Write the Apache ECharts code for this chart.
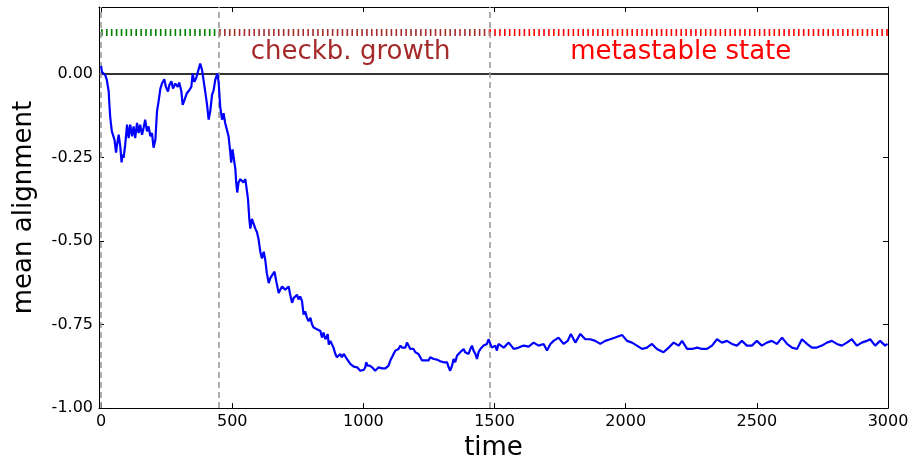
<!DOCTYPE html>
<html>
<head>
<meta charset="utf-8">
<script src="https://cdn.jsdelivr.net/npm/echarts@6/dist/echarts.min.js"></script>
<style>html,body{margin:0;padding:0;background:#fff}#c{width:913px;height:466px}</style>
</head>
<body>
<div id="c"></div>
<script>
// ---- data ----
const time = [0,3,10,16,22,29,31,35,41,48,51,57,61,67,73,78,82,86,92,99,105,111,118,124,130,137,143,149,156,162,168,175,181,188,194,200,207,213,219,226,232,241,247,255,260,268,274,283,292,298,306,311,318,327,336,344,349,355,362,369,378,385,391,397,404,410,416,423,429,435,443,448,454,461,467,473,480,486,492,496,501,508,512,515,519,524,531,537,543,550,556,560,565,569,575,581,588,594,600,607,613,620,626,632,639,645,651,661,668,677,683,690,696,702,709,715,721,728,734,740,747,753,759,766,772,778,785,791,798,804,810,817,823,829,836,842,848,855,861,864,868,874,880,886,893,899,905,912,918,925,931,937,944,950,956,963,969,976,982,988,995,1001,1007,1011,1016,1024,1033,1039,1045,1052,1058,1064,1071,1077,1084,1090,1096,1103,1109,1115,1122,1128,1134,1141,1147,1153,1160,1166,1172,1179,1185,1191,1198,1204,1210,1217,1223,1230,1236,1242,1249,1255,1261,1268,1274,1281,1287,1293,1300,1306,1312,1319,1325,1331,1338,1344,1350,1357,1363,1369,1376,1382,1388,1395,1401,1408,1414,1420,1427,1433,1439,1446,1452,1458,1465,1471,1477,1484,1490,1496,1503,1509,1515,1535,1554,1573,1592,1611,1630,1649,1668,1687,1700,1713,1725,1744,1763,1779,1791,1808,1827,1846,1865,1884,1903,1922,1941,1960,1986,2005,2024,2043,2062,2081,2100,2119,2144,2164,2183,2202,2215,2234,2253,2272,2291,2310,2329,2348,2367,2386,2405,2424,2443,2462,2481,2500,2519,2538,2557,2577,2596,2615,2634,2653,2672,2691,2710,2729,2748,2767,2786,2805,2824,2843,2862,2881,2900,2919,2932,2951,2970,2989,2998];
const alignment = [0.024,0.006,0.011,-0.004,-0.019,-0.053,-0.083,-0.132,-0.172,-0.167,-0.197,-0.236,-0.211,-0.182,-0.216,-0.265,-0.241,-0.251,-0.211,-0.152,-0.192,-0.152,-0.187,-0.157,-0.192,-0.147,-0.177,-0.152,-0.182,-0.162,-0.137,-0.172,-0.157,-0.187,-0.177,-0.221,-0.197,-0.113,-0.083,-0.044,-0.029,-0.016,-0.039,-0.053,-0.034,-0.022,-0.044,-0.029,-0.039,-0.026,-0.053,-0.093,-0.078,-0.058,-0.049,-0.039,0.001,-0.024,-0.014,0.006,0.031,0.011,0.016,-0.053,-0.093,-0.137,-0.113,-0.063,-0.049,-0.019,0.001,-0.024,-0.098,-0.137,-0.118,-0.147,-0.142,-0.187,-0.231,-0.266,-0.226,-0.231,-0.286,-0.325,-0.355,-0.325,-0.315,-0.310,-0.325,-0.315,-0.320,-0.374,-0.434,-0.463,-0.434,-0.429,-0.463,-0.473,-0.493,-0.532,-0.552,-0.532,-0.557,-0.597,-0.626,-0.611,-0.616,-0.592,-0.621,-0.656,-0.646,-0.636,-0.631,-0.646,-0.641,-0.636,-0.661,-0.685,-0.671,-0.666,-0.661,-0.675,-0.666,-0.680,-0.720,-0.710,-0.730,-0.740,-0.730,-0.749,-0.759,-0.754,-0.764,-0.769,-0.769,-0.789,-0.774,-0.794,-0.785,-0.779,-0.810,-0.799,-0.794,-0.819,-0.838,-0.848,-0.843,-0.838,-0.848,-0.838,-0.836,-0.853,-0.857,-0.868,-0.870,-0.876,-0.873,-0.878,-0.883,-0.888,-0.893,-0.886,-0.878,-0.863,-0.873,-0.873,-0.878,-0.876,-0.888,-0.886,-0.878,-0.873,-0.881,-0.878,-0.881,-0.878,-0.873,-0.857,-0.848,-0.838,-0.828,-0.833,-0.823,-0.813,-0.819,-0.823,-0.819,-0.804,-0.813,-0.823,-0.819,-0.823,-0.833,-0.828,-0.838,-0.843,-0.857,-0.860,-0.857,-0.855,-0.857,-0.848,-0.843,-0.853,-0.857,-0.855,-0.860,-0.860,-0.865,-0.863,-0.868,-0.863,-0.878,-0.888,-0.873,-0.853,-0.863,-0.843,-0.848,-0.833,-0.838,-0.823,-0.833,-0.828,-0.838,-0.823,-0.813,-0.828,-0.838,-0.853,-0.833,-0.823,-0.819,-0.813,-0.816,-0.808,-0.794,-0.808,-0.819,-0.819,-0.813,-0.828,-0.808,-0.819,-0.804,-0.823,-0.819,-0.813,-0.816,-0.804,-0.813,-0.808,-0.828,-0.808,-0.799,-0.789,-0.808,-0.799,-0.778,-0.804,-0.778,-0.794,-0.794,-0.799,-0.808,-0.799,-0.794,-0.789,-0.781,-0.799,-0.804,-0.813,-0.823,-0.819,-0.808,-0.823,-0.833,-0.819,-0.804,-0.813,-0.799,-0.823,-0.823,-0.819,-0.823,-0.823,-0.813,-0.794,-0.804,-0.799,-0.808,-0.813,-0.799,-0.813,-0.813,-0.799,-0.813,-0.804,-0.799,-0.808,-0.789,-0.808,-0.819,-0.823,-0.794,-0.808,-0.819,-0.819,-0.813,-0.804,-0.799,-0.808,-0.813,-0.804,-0.794,-0.813,-0.804,-0.799,-0.794,-0.813,-0.799,-0.813,-0.808];

// phase boundaries (time) and labels
const phaseStarts = [0, 450, 1480];
const phaseEnds = [450, 1480, 3000];
const phaseColors = ['#008000', '#a52a2a', '#ff0000'];
const phaseBandLevel = 0.124;
const phaseLabels = ['checkb. growth', 'metastable state'];
const phaseLabelX = [951, 2210];
const phaseLabelY = 0.064;

const xTicks = [0, 500, 1000, 1500, 2000, 2500, 3000];
const yTicks = [-1.00, -0.75, -0.50, -0.25, 0.00];

const FONT = 'DejaVu Sans';
const chart = echarts.init(document.getElementById('c'), null, {renderer: 'canvas'});

const mainLine = time.map((t, i) => [t, alignment[i]]);

const bandSeries = phaseStarts.map((s, i) => ({
  type: 'line',
  data: [[s, phaseBandLevel], [phaseEnds[i], phaseBandLevel]],
  showSymbol: false,
  symbol: 'none',
  silent: true,
  z: 3,
  lineStyle: {color: phaseColors[i], width: 7, type: [1.6, 3.3], cap: 'butt', opacity: 1}
}));

const option = {
  animation: false,
  backgroundColor: '#ffffff',
  grid: {left: 99, right: 25, top: 7, bottom: 53, containLabel: false},
  xAxis: [
    {
      type: 'value', min: -8, max: 3000, position: 'bottom',
      name: 'time', nameLocation: 'middle', nameGap: 24,
      nameTextStyle: {fontFamily: FONT, fontSize: 26, color: '#000'},
      axisLine: {show: true, onZero: false, lineStyle: {color: '#000', width: 1}},
      axisTick: {show: true, inside: true, length: 5, customValues: xTicks, lineStyle: {color: '#000'}},
      axisLabel: {show: true, customValues: xTicks, fontFamily: FONT, fontSize: 16, color: '#000', margin: 6,
        formatter: v => String(Math.round(v))},
      splitLine: {show: false}
    },
    {
      type: 'value', min: -8, max: 3000, position: 'top',
      axisLine: {show: true, onZero: false, lineStyle: {color: '#000', width: 1}},
      axisTick: {show: true, inside: true, length: 5, customValues: xTicks, lineStyle: {color: '#000'}},
      axisLabel: {show: false},
      splitLine: {show: false}
    }
  ],
  yAxis: [
    {
      type: 'value', min: -1, max: 0.2, position: 'left',
      name: 'mean alignment', nameLocation: 'middle', nameGap: 62,
      nameTextStyle: {fontFamily: FONT, fontSize: 26, color: '#000'},
      axisLine: {show: true, onZero: false, lineStyle: {color: '#000', width: 1}},
      axisTick: {show: true, inside: true, length: 5, customValues: yTicks, lineStyle: {color: '#000'}},
      axisLabel: {show: true, customValues: yTicks, fontFamily: FONT, fontSize: 16, color: '#000', margin: 6,
        formatter: v => v.toFixed(2)},
      splitLine: {show: false}
    },
    {
      type: 'value', min: -1, max: 0.2, position: 'right',
      axisLine: {show: true, onZero: false, lineStyle: {color: '#000', width: 1}},
      axisTick: {show: true, inside: true, length: 5, customValues: yTicks, lineStyle: {color: '#000'}},
      axisLabel: {show: false},
      splitLine: {show: false}
    }
  ],
  series: [
    {
      type: 'line',
      data: [],
      silent: true,
      markLine: {
        symbol: 'none', silent: true, animation: false,
        label: {show: false},
        data: [
          {yAxis: 0, lineStyle: {color: '#333', width: 2, type: 'solid', opacity: 1}},
          ...phaseStarts.map(s => ({xAxis: s, lineStyle: {color: '#999', width: 1.6, type: [6, 4], opacity: 1}}))
        ]
      }
    },
    ...bandSeries,
    {
      type: 'line',
      data: mainLine,
      showSymbol: false,
      symbol: 'none',
      z: 5,
      lineStyle: {color: '#0000ff', width: 2.2}
    },
    {
      type: 'line',
      data: phaseLabels.map((l, i) => ({value: [phaseLabelX[i], phaseLabelY], name: l,
        label: {color: phaseColors[i + 1]}})),
      showSymbol: true,
      symbol: 'circle',
      symbolSize: 1,
      lineStyle: {width: 0, opacity: 0},
      itemStyle: {color: 'rgba(0,0,0,0)', opacity: 1},
      silent: true,
      label: {show: true, position: 'inside', formatter: p => p.name, fontFamily: FONT, fontSize: 26, opacity: 1}
    }
  ]
};
chart.setOption(option);
</script>
</body>
</html>
